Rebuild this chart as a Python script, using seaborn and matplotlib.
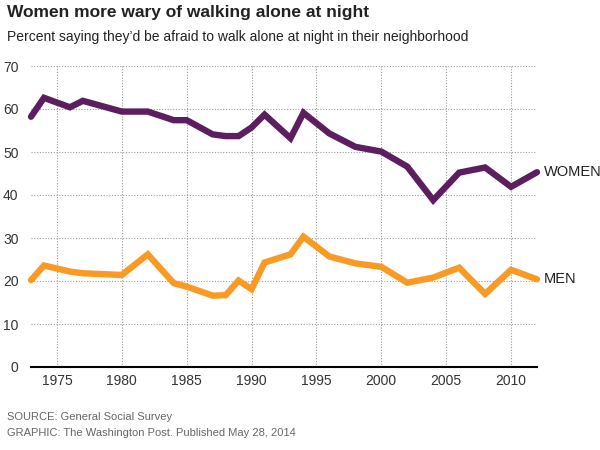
import matplotlib
matplotlib.use("Agg")
import matplotlib.pyplot as plt
import seaborn as sns
import pandas as pd

years = [1973, 1974, 1976, 1977, 1980, 1982, 1984, 1985, 1987, 1988, 1989, 1990,
         1991, 1993, 1994, 1996, 1998, 2000, 2002, 2004, 2006, 2008, 2010, 2012]
women = [58.2, 62.6, 60.4, 61.9, 59.4, 59.4, 57.4, 57.4, 54.1, 53.7, 53.7, 55.7,
         58.7, 53.2, 59.1, 54.3, 51.2, 50.1, 46.6, 38.8, 45.2, 46.4, 41.9, 45.3]
men = [20.2, 23.6, 22.2, 21.8, 21.4, 26.2, 19.5, 18.7, 16.6, 16.7, 20.1, 18.1,
       24.3, 26.2, 30.3, 25.7, 24.1, 23.3, 19.6, 20.8, 23.1, 17.0, 22.6, 20.4]
series_names = ["WOMEN", "MEN"]
x_ticks = [1975, 1980, 1985, 1990, 1995, 2000, 2005, 2010]
y_ticks = [0, 10, 20, 30, 40, 50, 60, 70]

df = pd.DataFrame({
    "year": years * 2,
    "value": women + men,
    "group": [series_names[0]] * len(years) + [series_names[1]] * len(years),
})

sns.set_theme(style="white")
plt.rcParams["font.family"] = ["Liberation Sans", "DejaVu Sans"]

fig = plt.figure(figsize=(6, 4.5), dpi=100)
ax = fig.add_axes([31 / 600, 1 - 367 / 450, (537 - 31) / 600, (367 - 66) / 450])

colors = {"WOMEN": "#5c1e5e", "MEN": "#f99a25"}
sns.lineplot(data=df, x="year", y="value", hue="group", palette=colors,
             linewidth=4.6, ax=ax, legend=False, solid_capstyle="round",
             solid_joinstyle="miter", zorder=3)
for line in ax.get_lines():
    line.set_clip_on(False)

ax.set_xlim(1973, 2012)
ax.set_ylim(0, 70)
ax.set_xticks(x_ticks)
ax.set_yticks(y_ticks)
ax.set_xlabel("")
ax.set_ylabel("")
ax.grid(True, linestyle=(0, (1, 1.5)), color="#999999", linewidth=0.8, zorder=0)
for s in ["top", "right", "left"]:
    ax.spines[s].set_visible(False)
ax.spines["bottom"].set_color("black")
ax.spines["bottom"].set_linewidth(1.5)
ax.spines["bottom"].set_zorder(4)
ax.tick_params(axis="both", length=0, labelsize=10, colors="#333333")
ax.tick_params(axis="y", pad=9)
ax.tick_params(axis="x", pad=5)

ax.text(2012.5, women[-1], series_names[0], va="center", ha="left",
        fontsize=10.5, color="#222222")
ax.text(2012.5, men[-1], series_names[1], va="center", ha="left",
        fontsize=10.5, color="#222222")

fig.text(7 / 600, 1 - 12 / 450, "Women more wary of walking alone at night",
         fontsize=12.5, fontweight="bold", color="#222222", va="center", ha="left")
fig.text(7 / 600, 1 - 37 / 450,
         "Percent saying they\u2019d be afraid to walk alone at night in their neighborhood",
         fontsize=10, color="#222222", va="center", ha="left")
fig.text(7 / 600, 1 - 417 / 450, "SOURCE: General Social Survey",
         fontsize=8, color="#666666", va="center", ha="left")
fig.text(7 / 600, 1 - 433 / 450,
         "GRAPHIC: The Washington Post. Published May 28, 2014",
         fontsize=8, color="#666666", va="center", ha="left")

fig.savefig("out.png", dpi=100)
